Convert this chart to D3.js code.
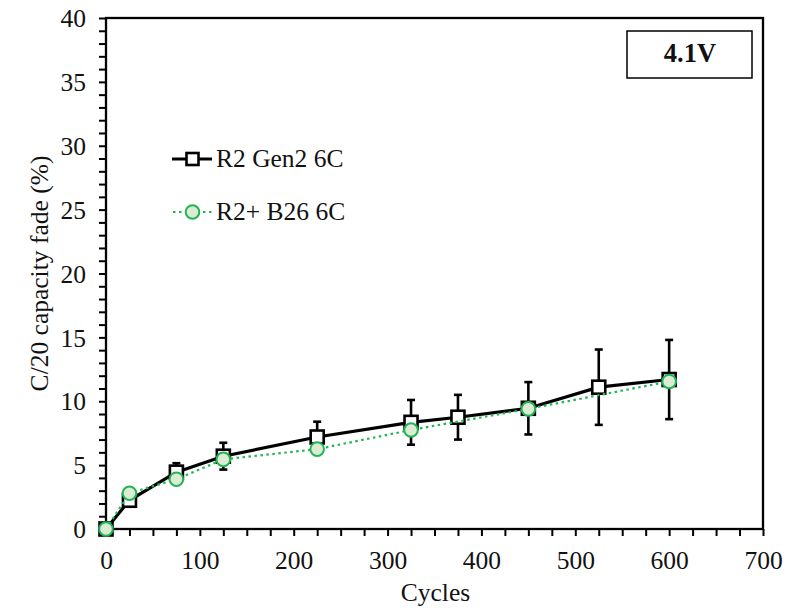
<!DOCTYPE html>
<html>
<head>
<meta charset="utf-8">
<script src="https://cdn.jsdelivr.net/npm/d3@7"></script>
<style>
  html, body { margin: 0; padding: 0; background: #fff; }
  svg { display: block; font-family: "Liberation Serif", "Times New Roman", serif; }
</style>
</head>
<body>
<svg id="chart" width="804" height="609"></svg>
<script>
// Capacity fade vs. cycle count
const gen2Cycles = [0, 25, 75, 125, 225, 325, 375, 450, 525, 600];
const gen2Fade   = [0, 2.25, 4.45, 5.7, 7.2, 8.35, 8.75, 9.45, 11.1, 11.7];
const gen2Err    = [0, 0.3, 0.7, 1.05, 1.2, 1.75, 1.75, 2.05, 2.95, 3.1];

const b26Cycles = [0, 25, 75, 125, 225, 325, 450, 600];
const b26Fade   = [0, 2.8, 3.9, 5.45, 6.25, 7.75, 9.4, 11.55];

const xTicks = [0, 100, 200, 300, 400, 500, 600, 700];
const yTicks = [0, 5, 10, 15, 20, 25, 30, 35, 40];
const seriesNames = ["R2 Gen2 6C", "R2+ B26 6C"];
const panelLabel = "4.1V";

const FONT = "'Liberation Serif', 'Times New Roman', serif";
const FS = 25.5;

const svg = d3.select("#chart");
const plotL = 106, plotR = 763, plotT = 18, plotB = 529;

const x = d3.scaleLinear().domain([0, 700]).range([plotL, plotR]);
const y = d3.scaleLinear().domain([0, 40]).range([plotB, plotT]);

const green = "#22b455";
const greenFill = "#dcebd4";

// Axes with minor ticks every 25 cycles / 1 %
const xAxis = d3.axisBottom(x).tickValues(d3.range(0, 701, 25)).tickSize(7)
  .tickFormat(d => xTicks.includes(d) ? d : "");
const yAxis = d3.axisLeft(y).tickValues(d3.range(0, 41, 1)).tickSize(7)
  .tickFormat(d => yTicks.includes(d) ? d : "");

const gx = svg.append("g").attr("transform", `translate(0,${plotB})`).call(xAxis);
const gy = svg.append("g").attr("transform", `translate(${plotL},0)`).call(yAxis);
[gx, gy].forEach(g => {
  g.select(".domain").remove();
  g.selectAll(".tick line").attr("stroke", "#000").attr("stroke-width", 2);
  g.selectAll(".tick text").attr("fill", "#111").attr("font-size", FS)
    .attr("font-family", FONT);
});
gx.selectAll(".tick text").attr("y", 40).attr("dy", 0);
gy.selectAll(".tick text").attr("x", -20).attr("dy", "0.34em");

// Plot frame
svg.append("rect").attr("x", plotL).attr("y", plotT)
  .attr("width", plotR - plotL).attr("height", plotB - plotT)
  .attr("fill", "none").attr("stroke", "#000").attr("stroke-width", 2.3);

// Axis titles
svg.append("text").attr("x", 435.5).attr("y", 601)
  .attr("text-anchor", "middle").attr("font-size", FS).attr("fill", "#111").text("Cycles");
svg.append("text").attr("transform", `translate(48,${(plotT + plotB) / 2}) rotate(-90)`)
  .attr("text-anchor", "middle").attr("font-size", FS).attr("fill", "#111")
  .text("C/20 capacity fade (%)");

// Error bars
const gen2 = gen2Cycles.map((c, i) => ({c, v: gen2Fade[i], e: gen2Err[i]}));
const b26 = b26Cycles.map((c, i) => ({c, v: b26Fade[i]}));
const eb = svg.append("g").attr("stroke", "#000").attr("stroke-width", 2.6);
gen2.filter(d => d.e > 0).forEach(d => {
  eb.append("line").attr("x1", x(d.c)).attr("x2", x(d.c))
    .attr("y1", y(d.v - d.e)).attr("y2", y(d.v + d.e));
  [d.v - d.e, d.v + d.e].forEach(v => eb.append("line")
    .attr("x1", x(d.c) - 4).attr("x2", x(d.c) + 4).attr("y1", y(v)).attr("y2", y(v)));
});

const line = d3.line().x(d => x(d.c)).y(d => y(d.v));

// R2 Gen2 series
svg.append("path").datum(gen2).attr("d", line).attr("fill", "none")
  .attr("stroke", "#000").attr("stroke-width", 3.2);
svg.append("g").selectAll("rect").data(gen2).join("rect")
  .attr("x", d => x(d.c) - 6.5).attr("y", d => y(d.v) - 6.5)
  .attr("width", 13).attr("height", 13)
  .attr("fill", "#fff").attr("stroke", "#000").attr("stroke-width", 2.6);

// R2+ B26 series
svg.append("path").datum(b26).attr("d", line).attr("fill", "none")
  .attr("stroke", green).attr("stroke-width", 2.2).attr("stroke-dasharray", "2.5,3.5");
svg.append("g").selectAll("circle").data(b26).join("circle")
  .attr("cx", d => x(d.c)).attr("cy", d => y(d.v)).attr("r", 6.8)
  .attr("fill", greenFill).attr("stroke", green).attr("stroke-width", 2);

// Legend
const lg = svg.append("g");
lg.append("line").attr("x1", 172).attr("x2", 212).attr("y1", 159).attr("y2", 159)
  .attr("stroke", "#000").attr("stroke-width", 3.2);
lg.append("rect").attr("x", 186.5).attr("y", 153).attr("width", 12).attr("height", 12)
  .attr("fill", "#fff").attr("stroke", "#000").attr("stroke-width", 2.6);
lg.append("text").attr("x", 216).attr("y", 167).attr("font-size", FS).attr("fill", "#111")
  .text(seriesNames[0]);
lg.append("line").attr("x1", 173).attr("x2", 212).attr("y1", 212).attr("y2", 212)
  .attr("stroke", green).attr("stroke-width", 2.2).attr("stroke-dasharray", "2.5,3.5");
lg.append("circle").attr("cx", 192.5).attr("cy", 212).attr("r", 6.8)
  .attr("fill", greenFill).attr("stroke", green).attr("stroke-width", 2);
lg.append("text").attr("x", 216).attr("y", 220).attr("font-size", FS).attr("fill", "#111")
  .text(seriesNames[1]);

// Voltage label box
svg.append("rect").attr("x", 627).attr("y", 31).attr("width", 125).attr("height", 47)
  .attr("fill", "#fff").attr("stroke", "#000").attr("stroke-width", 1.5);
svg.append("text").attr("x", 690).attr("y", 62).attr("text-anchor", "middle")
  .attr("font-size", 26.5).attr("font-weight", "bold").attr("fill", "#111").text(panelLabel);
</script>
</body>
</html>
